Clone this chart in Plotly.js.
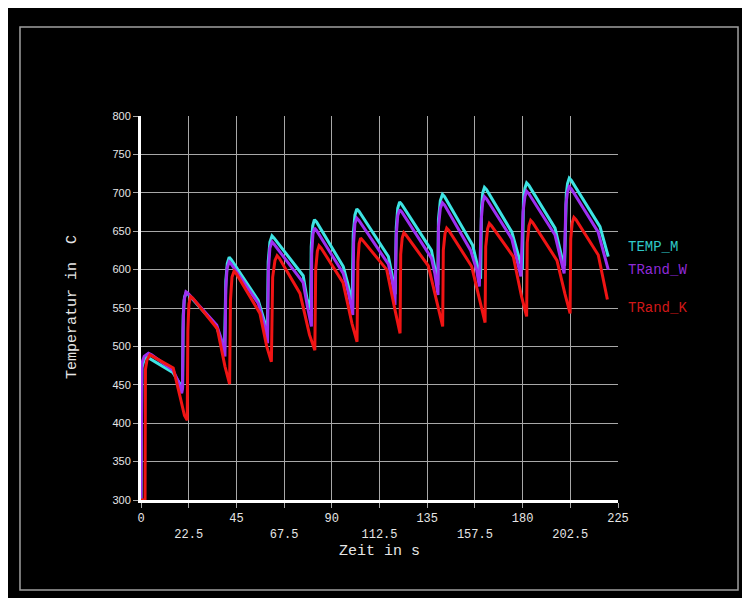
<!DOCTYPE html>
<html>
<head>
<meta charset="utf-8">
<script src="https://cdn.plot.ly/plotly-3.0.1.min.js"></script>
<style>
  html, body { margin: 0; padding: 0; background: #ffffff; width: 742px; height: 602px; overflow: hidden; }
  #chart { position: absolute; left: 8px; top: 8px; width: 734px; height: 590px; }
</style>
</head>
<body>
<div id="chart"></div>
<script>
// ---- data ----
const seriesNames = ['TEMP_M', 'TRand_W', 'TRand_K'];

const tTempM = [0, 0.4, 1.5, 3, 15, 18, 19.6,
  19.9, 20.5, 21.3, 22.3, 35.5, 37.5, 39.4,
  40, 40.7, 41.6, 42.6, 55.3, 58.5, 59.6,
  60, 60.8, 61.8, 62.8, 76.5, 78.3, 80,
  80.3, 81, 81.8, 82.8, 95.4, 97.5, 99.6,
  100.1, 100.9, 101.8, 102.8, 116.7, 118.3, 119.9,
  120.4, 121.1, 122, 123, 137, 138.6, 140,
  140.3, 141.2, 142.2, 143.2, 156.4, 158.8, 160.2,
  160.6, 161.2, 162, 163, 174.9, 178.8, 179.9,
  180.4, 181.1, 181.9, 182.9, 195.3, 198.4, 199.8,
  200.6, 201.2, 202, 203, 216.5, 220.4];
const yTempM = [300, 472, 483, 486, 466, 452, 446,
  540, 564, 570, 568, 527, 512, 495,
  585, 608, 616, 613, 560, 530, 520,
  610, 636, 644, 641, 592, 562, 548,
  630, 657, 665, 662, 604, 582, 556,
  645, 671, 679, 676, 617, 595, 568,
  655, 680, 688, 685, 625, 602, 580,
  665, 690, 698, 695, 632, 605, 588,
  680, 700, 707, 704, 649, 612, 600,
  690, 706, 713, 710, 654, 617, 605,
  698, 712, 719, 716, 656, 617];

const tRandW = [0, 0.2, 0.4, 1.5, 3.5, 5, 15.1, 17.5, 19.2, 19.6,
  19.8, 20.3, 21.2, 22.2, 35.7, 37.8, 39.6,
  40, 40.6, 41.6, 42.6, 55.3, 58.5, 59.7,
  60.1, 60.8, 61.8, 62.8, 76.5, 78.5, 80.4,
  80.5, 81.1, 81.8, 82.8, 95.4, 97.8, 99.9,
  100.3, 100.9, 101.8, 102.8, 116.7, 118.5, 119.8,
  120.4, 121.1, 122, 123, 137, 138.6, 140.1,
  140.3, 141.2, 142.2, 143.2, 155.5, 158.3, 159.6,
  160.5, 161.2, 162, 163, 174.9, 177.5, 179.2,
  180.2, 181.1, 181.9, 182.9, 195.3, 197.8, 199.6,
  200.4, 201.2, 202, 203, 215.6, 220.4];
const yRandW = [300, 385, 478, 487, 491, 489, 469, 455, 439, 445,
  520, 560, 571, 569, 528, 510, 487,
  575, 602, 610, 607, 556, 525, 504,
  600, 628, 636, 633, 583, 552, 526,
  620, 646, 654, 651, 595, 570, 541,
  635, 660, 667, 664, 607, 585, 554,
  645, 670, 678, 675, 615, 595, 567,
  655, 680, 687, 684, 625, 600, 578,
  665, 688, 695, 692, 640, 612, 591,
  675, 695, 702, 699, 645, 618, 595,
  685, 701, 708, 705, 649, 600];

const tRandK = [0, 1.9, 2.1, 2.8, 4.2, 15.2, 18.4, 20.5, 21.8,
  22.1, 22.6, 23.4, 24.4, 36, 39.6, 41.8,
  42.2, 42.9, 43.9, 44.9, 56.1, 59.3, 61.5,
  62.1, 63.2, 64.2, 65.2, 75, 79.5, 82,
  82.4, 83.2, 84, 85, 95.3, 99.5, 101.9,
  102.3, 102.9, 103.6, 104.6, 115.9, 120, 122.2,
  122.5, 123.2, 124, 125, 135.5, 140, 142.3,
  142.6, 143.4, 144.2, 145.2, 156, 160, 162.3,
  162.6, 163.5, 164.3, 165.3, 175.6, 179.5, 181.9,
  182.2, 183, 183.8, 184.8, 196.2, 200, 202.4,
  202.7, 203.4, 204.2, 205.2, 215.7, 220];
const yRandK = [300, 300, 470, 482, 489, 472, 435, 410, 404,
  520, 555, 565, 563, 523, 474, 451,
  560, 590, 598, 595, 543, 500, 480,
  590, 612, 618, 615, 569, 515, 495,
  600, 624, 631, 628, 583, 530, 506,
  610, 634, 641, 638, 600, 545, 517,
  620, 641, 648, 645, 605, 553, 526,
  625, 647, 654, 651, 604, 558, 531,
  630, 653, 660, 657, 617, 565, 539,
  635, 657, 664, 661, 612, 568, 543,
  640, 661, 668, 665, 619, 561];

const xTickVals = [0, 22.5, 45, 67.5, 90, 112.5, 135, 157.5, 180, 202.5, 225];
const xTickLabels = ['0', '22.5', '45', '67.5', '90', '112.5', '135', '157.5', '180', '202.5', '225'];
const yTickVals = [300, 350, 400, 450, 500, 550, 600, 650, 700, 750, 800];
const yTickLabels = ['300', '350', '400', '450', '500', '550', '600', '650', '700', '750', '800'];

const xTitle = 'Zeit in s';
const yTitle = 'Temperatur in\u00a0\u00a0C';

// ---- styling ----
const lineColors = ['#3de3e3', '#9d2ef0', '#f01414'];
const textColors = ['#2fc9c9', '#8f2ad8', '#d01818'];

// alternate tick rows: every second label on a lower line
const xTickText = xTickLabels.map((s, i) => (i % 2 === 1 ? '\u00a0<br>' + s : s));

const traces = [
  { x: tTempM, y: yTempM, name: seriesNames[0] },
  { x: tRandW, y: yRandW, name: seriesNames[1] },
  { x: tRandK, y: yRandK, name: seriesNames[2] }
].map((tr, i) => Object.assign(tr, {
  type: 'scatter', mode: 'lines',
  line: { color: lineColors[i], width: 3, shape: 'linear' },
  hoverinfo: 'skip'
}));

const mono = 'Liberation Mono, DejaVu Sans Mono, monospace';

const layout = {
  width: 734, height: 590,
  margin: { l: 133, r: 124, t: 108, b: 98, pad: 0 },
  paper_bgcolor: '#000000',
  plot_bgcolor: '#000000',
  showlegend: false,
  xaxis: {
    range: [0, 225], autorange: false,
    tickmode: 'array', tickvals: xTickVals, ticktext: xTickText,
    showgrid: true, gridcolor: '#a8a8a8', gridwidth: 1,
    zeroline: false,
    showline: true, linecolor: '#ffffff', linewidth: 3,
    ticks: 'outside', ticklen: 5, tickcolor: '#a8a8a8', tickwidth: 1,
    tickfont: { family: mono, size: 12, color: '#e6e6e6' },
    fixedrange: true
  },
  yaxis: {
    range: [300, 800], autorange: false,
    tickmode: 'array', tickvals: yTickVals, ticktext: yTickLabels,
    showgrid: true, gridcolor: '#a8a8a8', gridwidth: 1,
    zeroline: false,
    showline: true, linecolor: '#ffffff', linewidth: 3,
    ticks: 'outside', ticklen: 5, tickcolor: '#a8a8a8', tickwidth: 1,
    tickfont: { family: 'Liberation Sans, Arial, sans-serif', size: 11, color: '#e6e6e6' },
    fixedrange: true
  },
  shapes: [{
    type: 'rect', xref: 'paper', yref: 'paper',
    x0: -0.2537, x1: 1.2516, y0: -0.2344, y1: 1.2318,
    line: { color: '#a0a0a0', width: 1.5 }, fillcolor: 'rgba(0,0,0,0)', layer: 'below'
  }],
  annotations: [
    { text: xTitle, xref: 'paper', yref: 'paper', x: 0.5, y: -0.133,
      xanchor: 'center', yanchor: 'middle', showarrow: false,
      font: { family: mono, size: 15, color: '#e6e6e6' } },
    { text: yTitle, xref: 'paper', yref: 'paper', x: -0.1447, y: 0.5026,
      xanchor: 'center', yanchor: 'middle', showarrow: false, textangle: -90,
      font: { family: mono, size: 15, color: '#e6e6e6' } },
    { text: seriesNames[0], xref: 'paper', yref: 'paper', x: 1.017, y: 0.659,
      xanchor: 'left', yanchor: 'middle', showarrow: false,
      font: { family: mono, size: 14, color: textColors[0] } },
    { text: seriesNames[1], xref: 'paper', yref: 'paper', x: 1.017, y: 0.599,
      xanchor: 'left', yanchor: 'middle', showarrow: false,
      font: { family: mono, size: 14, color: textColors[1] } },
    { text: seriesNames[2], xref: 'paper', yref: 'paper', x: 1.017, y: 0.4987,
      xanchor: 'left', yanchor: 'middle', showarrow: false,
      font: { family: mono, size: 14, color: textColors[2] } }
  ]
};

Plotly.newPlot('chart', traces, layout, { staticPlot: true, displayModeBar: false });
</script>
</body>
</html>
